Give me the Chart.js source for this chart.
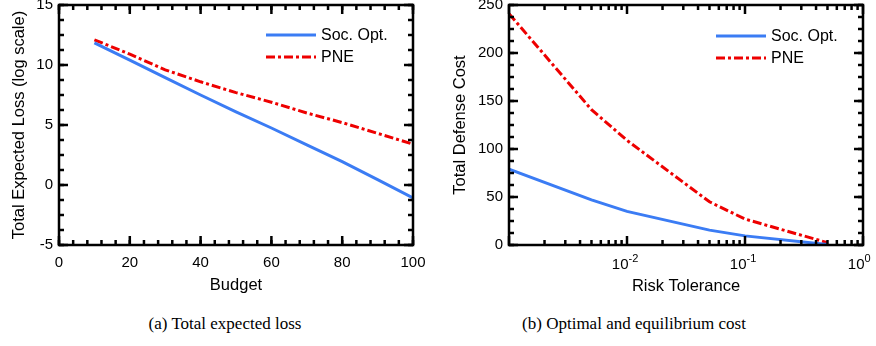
<!DOCTYPE html>
<html>
<head>
<meta charset="utf-8">
<script src="https://cdn.jsdelivr.net/npm/chart.js@4/dist/chart.umd.min.js"></script>
<style>
  body { margin: 0; background: #fff; width: 876px; height: 346px; position: relative; overflow: hidden; }
  canvas { position: absolute; top: 0; }
  #lossChart { left: 0; }
  #costChart { left: 440px; }
  .caption { position: absolute; top: 314px; font-family: "Liberation Serif", "Times New Roman", serif; font-size: 17px; color: #000; white-space: nowrap; transform: translateX(-50%); }
</style>
</head>
<body>
<canvas id="lossChart" width="440" height="300"></canvas>
<canvas id="costChart" width="436" height="300"></canvas>
<div class="caption" style="left:225px">(a) Total expected loss</div>
<div class="caption" style="left:634px">(b) Optimal and equilibrium cost</div>
<script>
// (a) total expected loss vs budget
const budget = [10, 20, 30, 40, 50, 60, 70, 80, 90, 100];
const lossSocOpt = [11.85, 10.4, 8.95, 7.5, 6.1, 4.75, 3.35, 1.95, 0.45, -1.07];
const lossPNE = [12.1, 10.9, 9.6, 8.6, 7.7, 6.9, 6.0, 5.2, 4.3, 3.4];

// (b) defense cost vs risk tolerance
const riskTolerance = [0.001, 0.005, 0.01, 0.05, 0.1, 0.5];
const costSocOpt = [79, 47, 35, 15.5, 9.5, 0.5];
const costPNE = [241, 141, 109, 45, 27, 2.4];

const seriesNames = ["Soc. Opt.", "PNE"];
const logTickLabels = { 0.01: "-2", 0.1: "-1", 1: "0" };

const BLUE = "#3b7cf4";
const RED = "#ee0000";
const SANS = "'Liberation Sans', Arial, Helvetica, sans-serif";

function pts(xs, ys) {
    return xs.map((x, i) => ({ x: x, y: ys[i] }));
}

// minor tick values: a number means a linear step, "log" means 2..9 per decade
function minorValues(scale, step) {
    const out = [];
    if (step === "log") {
        for (let e = Math.floor(Math.log10(scale.min)); e < Math.log10(scale.max); e++) {
            for (let m = 2; m <= 9; m++) out.push(m * Math.pow(10, e));
        }
    } else {
        for (let v = scale.min; v <= scale.max + 1e-9; v += step) out.push(v);
    }
    return out;
}

// box around the plot with inward ticks on all four sides
const frameTicks = {
    id: "frameTicks",
    afterDraw(chart, args, opts) {
        const ctx = chart.ctx;
        const a = chart.chartArea;
        const xs = chart.scales.x, ys = chart.scales.y;
        const L = a.left, R = a.right, T = a.top, B = a.bottom;
        ctx.save();
        ctx.setLineDash([]);
        ctx.lineWidth = 2.5;
        ctx.strokeStyle = "#000";
        const seg = (x1, y1, x2, y2) => {
            ctx.beginPath();
            ctx.moveTo(x1, y1);
            ctx.lineTo(x2, y2);
            ctx.stroke();
        };
        const tickX = (v, len) => {
            const p = xs.getPixelForValue(v);
            if (!(p >= L - 0.5 && p <= R + 0.5)) return;
            seg(p, B, p, B - len);
            seg(p, T, p, T + len);
        };
        const tickY = (v, len) => {
            const p = ys.getPixelForValue(v);
            if (!(p >= T - 0.5 && p <= B + 0.5)) return;
            seg(L, p, L + len, p);
            seg(R, p, R - len, p);
        };
        minorValues(xs, opts.xMinor).forEach(v => tickX(v, 5));
        minorValues(ys, opts.yMinor).forEach(v => tickY(v, 5));
        xs.ticks.forEach(t => tickX(t.value, 9));
        ys.ticks.forEach(t => tickY(t.value, 9));
        ctx.strokeRect(L, T, R - L, B - T);
        ctx.restore();
    }
};

// legend drawn inside the plot, top right
const innerLegend = {
    id: "innerLegend",
    afterDraw(chart, args, opts) {
        const ctx = chart.ctx;
        ctx.save();
        ctx.font = "16px " + SANS;
        ctx.textBaseline = "middle";
        ctx.fillStyle = "#000";
        chart.data.datasets.forEach((ds, i) => {
            const y = opts.y + i * opts.gap;
            ctx.strokeStyle = ds.borderColor;
            ctx.lineWidth = ds.borderWidth;
            ctx.setLineDash(ds.borderDash || []);
            ctx.beginPath();
            ctx.moveTo(opts.x, y);
            ctx.lineTo(opts.x + 50, y);
            ctx.stroke();
            ctx.fillText(ds.label, opts.x + 55, y + 1);
        });
        ctx.restore();
    }
};

// 10^n labels for the log axis
const powerLabels = {
    id: "powerLabels",
    afterDraw(chart) {
        const ctx = chart.ctx;
        const xs = chart.scales.x;
        ctx.save();
        ctx.fillStyle = "#000";
        ctx.textBaseline = "middle";
        xs.ticks.forEach(t => {
            const exp = logTickLabels[t.value];
            if (exp === undefined) return;
            const p = xs.getPixelForValue(t.value);
            ctx.font = "15px " + SANS;
            ctx.textAlign = "right";
            ctx.fillText("10", p + 1.5, 265);
            ctx.font = "11px " + SANS;
            ctx.textAlign = "left";
            ctx.fillText(exp, p + 1.5, 259);
        });
        ctx.restore();
    }
};

function lineSet(label, data, color, dash) {
    return {
        label: label,
        data: data,
        borderColor: color,
        borderWidth: 3,
        borderDash: dash,
        pointRadius: 0,
        tension: 0,
        fill: false,
    };
}

function axisTitle(text, padding) {
    return { display: true, text: text, color: "#000", font: { family: SANS, size: 16.5 }, padding: padding };
}

function fixX(s) {
    s.height = 55;
    s.paddingLeft = 0;
    s.paddingRight = 0;
}

function fixY(width) {
    return s => {
        s.width = width;
        s.paddingTop = 0;
        s.paddingBottom = 0;
    };
}

const tickFont = { family: SANS, size: 15 };
const pneDash = [9, 3, 3, 3];

new Chart(document.getElementById("lossChart").getContext("2d"), {
    type: "line",
    data: {
        datasets: [
            lineSet(seriesNames[0], pts(budget, lossSocOpt), BLUE, []),
            lineSet(seriesNames[1], pts(budget, lossPNE), RED, pneDash),
        ],
    },
    options: {
        responsive: false,
        animation: false,
        layout: { padding: { left: 0, right: 27, top: 5, bottom: 0 } },
        plugins: {
            legend: { display: false },
            tooltip: { enabled: false },
            frameTicks: { xMinor: 4, yMinor: 1.25 },
            innerLegend: { x: 266, y: 35, gap: 22 },
        },
        scales: {
            x: {
                type: "linear",
                min: 0, max: 100,
                grid: { display: false, drawTicks: false },
                border: { display: false },
                ticks: { stepSize: 20, color: "#000", font: tickFont, padding: 9, maxRotation: 0 },
                title: axisTitle("Budget", { top: 0, bottom: 5 }),
                afterFit: fixX,
            },
            y: {
                min: -5, max: 15,
                grid: { display: false, drawTicks: false },
                border: { display: false },
                ticks: { stepSize: 5, color: "#000", font: tickFont, padding: 6 },
                title: axisTitle("Total Expected Loss (log scale)", { top: 10, bottom: 0 }),
                afterFit: fixY(59),
            },
        },
    },
    plugins: [frameTicks, innerLegend],
});

new Chart(document.getElementById("costChart").getContext("2d"), {
    type: "line",
    data: {
        datasets: [
            lineSet(seriesNames[0], pts(riskTolerance, costSocOpt), BLUE, []),
            lineSet(seriesNames[1], pts(riskTolerance, costPNE), RED, pneDash),
        ],
    },
    options: {
        responsive: false,
        animation: false,
        layout: { padding: { left: 0, right: 13, top: 5, bottom: 0 } },
        plugins: {
            legend: { display: false },
            tooltip: { enabled: false },
            frameTicks: { xMinor: "log", yMinor: 12.5 },
            innerLegend: { x: 276, y: 36, gap: 22 },
        },
        scales: {
            x: {
                type: "logarithmic",
                min: 0.001, max: 1,
                grid: { display: false, drawTicks: false },
                border: { display: false },
                afterBuildTicks: s => { s.ticks = [0.001, 0.01, 0.1, 1].map(v => ({ value: v })); },
                ticks: { display: false },
                title: axisTitle("Risk Tolerance", { top: 0, bottom: 4 }),
                afterFit: fixX,
            },
            y: {
                min: 0, max: 250,
                grid: { display: false, drawTicks: false },
                border: { display: false },
                ticks: { stepSize: 50, color: "#000", font: tickFont, padding: 6 },
                title: axisTitle("Total Defense Cost", { top: 11, bottom: 0 }),
                afterFit: fixY(69),
            },
        },
    },
    plugins: [frameTicks, innerLegend, powerLabels],
});
</script>
</body>
</html>
